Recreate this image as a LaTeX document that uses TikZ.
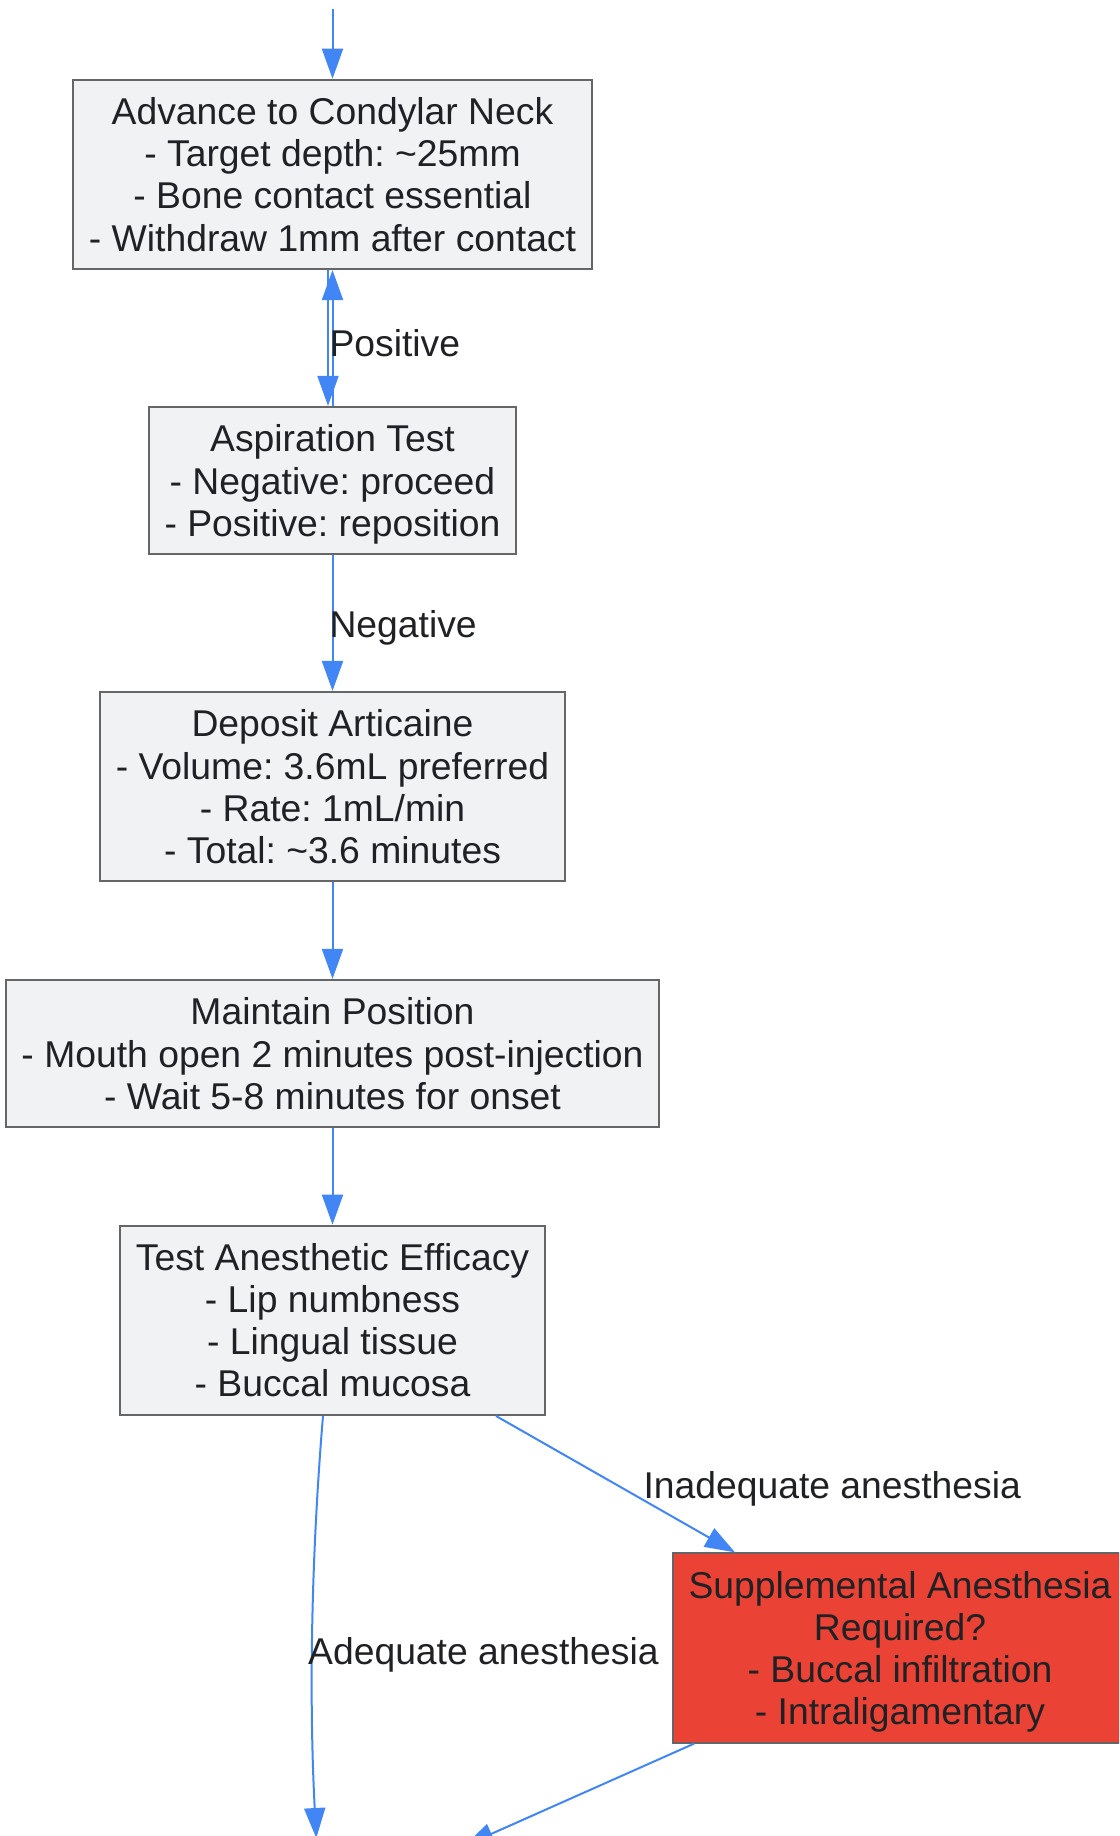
\documentclass[tikz,border=0pt]{standalone}
\usepackage{fontspec}
\setmainfont{Liberation Sans}
\usetikzlibrary{arrows.meta}
\definecolor{flowblue}{HTML}{4285F4}
\definecolor{boxgray}{HTML}{F1F2F4}
\definecolor{edgegray}{HTML}{666666}
\definecolor{alertred}{HTML}{EA4335}
\definecolor{inkdark}{HTML}{202124}
\begin{document}
\begin{tikzpicture}[x=1pt,y=-1pt,
  stepbox/.style={draw=edgegray,line width=2pt,fill=boxgray,align=center,inner xsep=15.5pt,inner ysep=18pt,text depth=0pt,text=inkdark,font=\fontsize{37.3}{42.1}\selectfont\frenchspacing},
  alertbox/.style={stepbox,fill=alertred},
  flow/.style={draw=flowblue,line width=2pt,-{Triangle[length=30pt,width=21pt]}},
  lbl/.style={anchor=west,inner sep=0pt,yshift=-5pt,text=inkdark,font=\fontsize{37.3}{42.1}\selectfont}]
\def \xc{332.5};
\useasboundingbox (0,0) rectangle (1119,1836);
\clip (0,0) rectangle (1119,1836);
\node[stepbox] (ADV) at (\xc,174.4) {Advance to Condylar Neck\\- Target depth: \textasciitilde25mm\\- Bone contact essential\\- Withdraw 1mm after contact};
\node[stepbox] (ASP) at (\xc,480.5) {Aspiration Test\\- Negative: proceed\\- Positive: reposition};
\node[stepbox] (DEP) at (\xc,786.6) {Deposit Articaine\\- Volume: 3.6mL preferred\\- Rate: 1mL/min\\- Total: \textasciitilde3.6 minutes};
\node[stepbox] (MAIN) at (\xc,1053.5) {Maintain Position\\- Mouth open 2 minutes post-injection\\- Wait 5-8 minutes for onset};
\node[stepbox] (TEST) at (\xc,1320.3) {Test Anesthetic Efficacy\\- Lip numbness\\- Lingual tissue\\- Buccal mucosa};
\node[alertbox] (SUPP) at (900,1648) {Supplemental Anesthesia\\Required?\\- Buccal infiltration\\- Intraligamentary};
\coordinate (TOP) at (\xc,9);
\coordinate (OUTA) at (316.3,1838);
\coordinate (OUTB) at (464,1846);
\draw[flow] (TOP) -- (ADV);
\draw[flow] ([xshift=-4.5pt]ADV.south) -- ([xshift=-4.5pt]ASP.north);
\draw[flow] (ASP.north) -- node[lbl,midway,xshift=-4pt]{Positive} (ADV.south);
\draw[flow] (ASP) -- node[lbl,midway,xshift=-4pt]{Negative} (DEP);
\draw[flow] (DEP) -- (MAIN);
\draw[flow] (MAIN) -- (TEST);
\draw[flow] ([xshift=-9.5pt]TEST.south) .. controls (311,1560) and (309,1700) .. node[lbl,pos=0.55,xshift=-5pt]{Adequate anesthesia} (OUTA);
\draw[flow] ([xshift=163.5pt]TEST.south) -- node[lbl,midway,xshift=27pt]{Inadequate anesthesia} ([xshift=-165pt]SUPP.north);
\draw[flow] ([xshift=-206pt]SUPP.south) -- (OUTB);
\end{tikzpicture}
\end{document}
